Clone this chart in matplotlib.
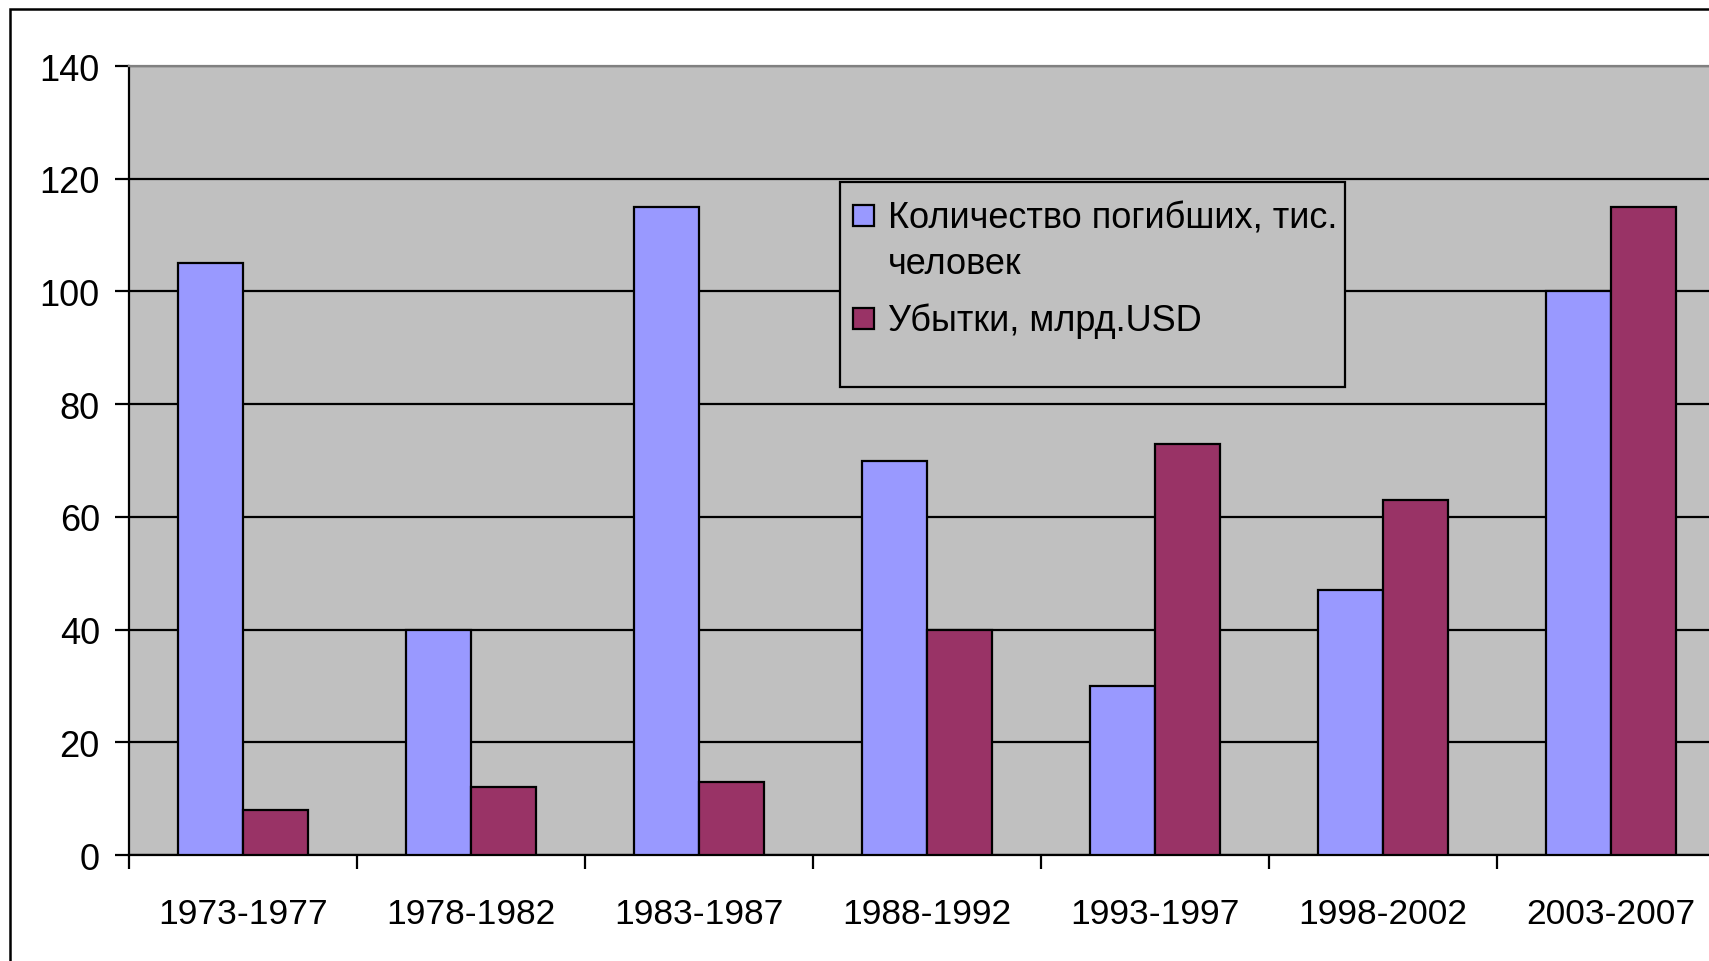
import numpy as np
import matplotlib
matplotlib.use("Agg")
import matplotlib.pyplot as plt
from matplotlib.patches import Rectangle

plt.rcParams['font.family'] = ['Liberation Sans', 'DejaVu Sans']

categories = ['1973-1977', '1978-1982', '1983-1987', '1988-1992',
              '1993-1997', '1998-2002', '2003-2007']
deaths = [105, 40, 115, 70, 30, 47, 100]
losses = [8, 12, 13, 40, 73, 63, 115]
yticks = [0, 20, 40, 60, 80, 100, 120, 140]

W, H = 1709, 962
fig = plt.figure(figsize=(W / 100, H / 100), dpi=100)
fig.patch.set_facecolor('white')

# axes (right edge runs past the figure, as in the cropped reference)
ax = fig.add_axes([129 / W, 1 - 856 / H, 1596 / W, 789 / H])
ax.set_facecolor('#C0C0C0')

x = np.arange(len(categories))
w = 1 / 3.5
blue = '#9999FF'
red = '#993366'
LW = 1.6
ax.bar(x - w / 2, deaths, w, color=blue, edgecolor='black', linewidth=LW, zorder=3)
ax.bar(x + w / 2, losses, w, color=red, edgecolor='black', linewidth=LW, zorder=3)

ax.set_xlim(-0.5, len(categories) - 0.5)
ax.set_ylim(0, 140)
ax.set_yticks(yticks)
ax.set_yticklabels([str(v) for v in yticks])
ax.yaxis.grid(True, color='black', linewidth=LW, zorder=1)
ax.set_axisbelow(True)

major = np.arange(-0.5, len(categories), 1)
ax.set_xticks(major)
ax.set_xticklabels([''] * len(major))
ax.set_xticks(x, minor=True)
ax.set_xticklabels(categories, minor=True)

ax.tick_params(axis='y', which='major', direction='out', length=10, width=LW,
               labelsize=26, pad=11, colors='black')
ax.tick_params(axis='x', which='major', direction='out', length=10, width=LW)
ax.tick_params(axis='x', which='minor', length=0, labelsize=25.5, pad=30)

for s in ['left', 'bottom']:
    ax.spines[s].set_color('black')
    ax.spines[s].set_linewidth(LW)
ax.spines['top'].set_color('#808080')
ax.spines['top'].set_linewidth(1.6)
ax.spines['right'].set_visible(False)

# legend box (Excel style)
tf = fig.transFigure
box = Rectangle((840 / W, 1 - 388 / H), 505 / W, 205 / H, transform=tf,
                facecolor='#C0C0C0', edgecolor='black', linewidth=LW, zorder=4)
fig.patches.append(box)
ms = 21
for yc, col in [(216, blue), (319, red)]:
    fig.patches.append(Rectangle((853 / W, 1 - (yc + ms / 2) / H), ms / W, ms / H,
                                 transform=tf, facecolor=col, edgecolor='black',
                                 linewidth=LW, zorder=5))
legend_lines = [('Количество погибших, тис.', 219), ('человек', 264),
                ('Убытки, млрд.USD', 321)]
for txt, yc in legend_lines:
    fig.text(888 / W, 1 - yc / H, txt, fontsize=26, va='center', ha='left',
             zorder=6)

# outer chart frame
fig.patches.append(Rectangle((9.5 / W, -0.5), 2.0, 1.5 - 10 / H, transform=tf,
                             fill=False, edgecolor='black', linewidth=1.8, zorder=0))

fig.savefig('out.png', dpi=100)
